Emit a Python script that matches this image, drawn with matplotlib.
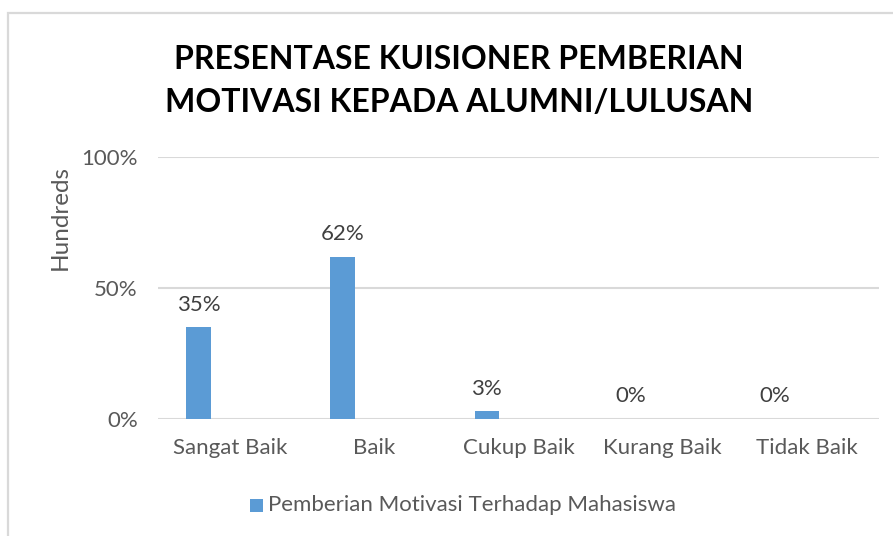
import matplotlib
matplotlib.use("Agg")
import matplotlib.pyplot as plt
from matplotlib.patches import Rectangle
import numpy as np

categories = ["Sangat Baik", "Baik", "Cukup Baik", "Kurang Baik", "Tidak Baik"]
values = [0.35, 0.62, 0.03, 0.0, 0.0]
value_labels = ["35%", "62%", "3%", "0%", "0%"]
yticks = [0, 0.5, 1.0]
ytick_labels = ["0%", "50%", "100%"]
series_name = "Pemberian Motivasi Terhadap Mahasiswa"
title = "PRESENTASE KUISIONER PEMBERIAN\nMOTIVASI KEPADA ALUMNI/LULUSAN"

plt.rcParams['font.family'] = ['Lato', 'DejaVu Sans']

W, H = 893, 536
fig = plt.figure(figsize=(W/100, H/100), dpi=100)
fig.patches.append(Rectangle((8/W, -0.1), 1.2, (1 - 13/H) + 0.1, transform=fig.transFigure,
                             fill=False, edgecolor='#d9d9d9', linewidth=1.6))

ax = fig.add_axes([158/W, 1 - 419/H, 721/W, (419 - 157)/H])
x = np.arange(len(categories))
offset = -0.22
bar_color = '#5b9bd5'
ax.bar(x + offset, values, width=0.17, color=bar_color, zorder=3)
for xi, v, lab in zip(x, values, value_labels):
    ax.annotate(lab, (xi + offset, v), xytext=(0, 9), textcoords='offset points',
                ha='center', va='bottom', fontsize=16, color='#404040')

ax.set_xlim(-0.5, len(categories) - 0.5)
ax.set_ylim(0, 1)
ax.set_yticks(yticks)
ax.set_yticklabels(ytick_labels)
ax.set_xticks(x)
ax.set_xticklabels(categories)
ax.tick_params(axis='both', length=0, labelsize=16, labelcolor='#595959')
ax.tick_params(axis='y', pad=14.5)
ax.tick_params(axis='x', pad=14)
ax.grid(axis='y', color='#d9d9d9', linewidth=1.5, zorder=0)
for s in ax.spines.values():
    s.set_visible(False)

fig.text(60/W, 1 - 217/H, "Hundreds", rotation=90, ha='center', va='center',
         fontsize=17.5, color='#595959')
fig.text(459/W, 1 - 81/H, title, ha='center', va='center', fontsize=23,
         fontweight='bold', color='#000000', linespacing=1.55)

# legend
fig.patches.append(Rectangle((250/W, 1 - 512/H), 13/W, 13/H, transform=fig.transFigure,
                             facecolor=bar_color, edgecolor='none'))
fig.text(268/W, 1 - 505/H, series_name, ha='left', va='center', fontsize=16, color='#595959')

fig.savefig("out.png", dpi=100)
